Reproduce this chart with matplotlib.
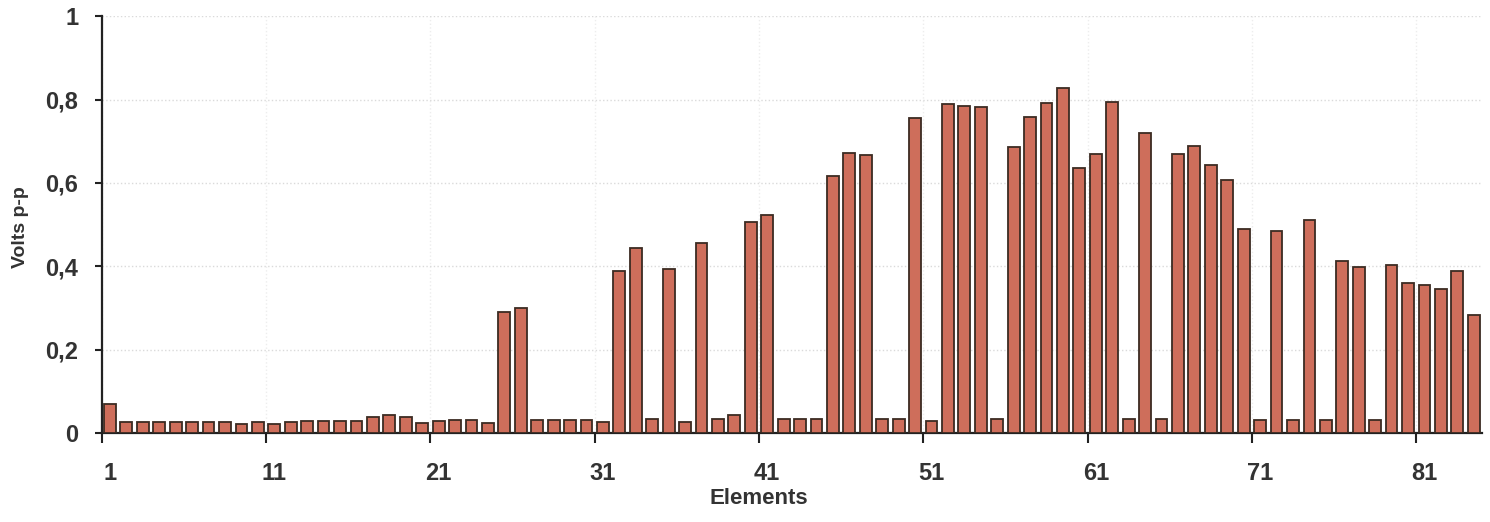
import numpy as np
import matplotlib
matplotlib.use('Agg')
import matplotlib.pyplot as plt
from matplotlib.ticker import FixedLocator, NullFormatter

# peak-to-peak voltage per element
elements = list(range(1, 85))
volts = [0.070, 0.026, 0.026, 0.026, 0.026, 0.026, 0.026, 0.027, 0.021, 0.027,
         0.021, 0.027, 0.028, 0.028, 0.029, 0.029, 0.039, 0.044, 0.039, 0.023,
         0.029, 0.030, 0.030, 0.024, 0.290, 0.300, 0.031, 0.031, 0.031, 0.031,
         0.026, 0.388, 0.443, 0.033, 0.394, 0.026, 0.457, 0.033, 0.044, 0.507,
         0.522, 0.034, 0.034, 0.034, 0.617, 0.672, 0.667, 0.034, 0.034, 0.755,
         0.028, 0.790, 0.785, 0.782, 0.034, 0.685, 0.757, 0.792, 0.828, 0.635,
         0.669, 0.793, 0.034, 0.720, 0.034, 0.670, 0.688, 0.642, 0.608, 0.490,
         0.032, 0.485, 0.032, 0.510, 0.032, 0.413, 0.398, 0.032, 0.404, 0.360,
         0.354, 0.346, 0.388, 0.283]
xlabels = ['1', '11', '21', '31', '41', '51', '61', '71', '81']
ylabels = ['0', '0,2', '0,4', '0,6', '0,8', '1']

plt.rcParams['font.family'] = ['Liberation Sans', 'DejaVu Sans']
plt.rcParams['font.weight'] = 'bold'

fig = plt.figure(figsize=(14.9, 5.22), dpi=100)
ax = fig.add_axes([0.0683, 0.1705, 0.9263, 0.7985])

ax.bar(elements, volts, width=0.72, color='#ce6e5b', edgecolor='#3b2b22', linewidth=1.3, zorder=3)

ax.set_xlim(0.5, 84.5)
ax.set_ylim(0, 1)

# ticks between categories, labels under categories
ax.xaxis.set_major_locator(FixedLocator(np.arange(0.5, 85, 10)))
ax.xaxis.set_major_formatter(NullFormatter())
ax.xaxis.set_minor_locator(FixedLocator([int(s) for s in xlabels]))
ax.set_xticklabels(xlabels, minor=True)
ax.tick_params(axis='x', which='major', length=7, width=1.5, color='#222222', direction='out')
ax.tick_params(axis='x', which='minor', length=0, pad=21, labelsize=17, labelcolor='#333333')

ax.set_yticks([0, 0.2, 0.4, 0.6, 0.8, 1.0])
ax.set_yticklabels(ylabels)
ax.tick_params(axis='y', length=5, width=1.5, color='#222222', pad=12, labelsize=17, labelcolor='#333333')

ax.grid(axis='y', color='#dadada', linestyle=':', linewidth=1.0, zorder=0)
ax.grid(axis='x', which='major', color='#ededed', linestyle=':', linewidth=1.0, zorder=0)

for s in ['top', 'right']:
    ax.spines[s].set_visible(False)
for s in ['left', 'bottom']:
    ax.spines[s].set_color('#222222')
    ax.spines[s].set_linewidth(1.6)

ax.set_xlabel('Elements', fontsize=16, fontweight='bold', color='#333333')
ax.set_ylabel('Volts p-p', fontsize=14, fontweight='bold', color='#333333')
ax.xaxis.set_label_coords(0.476, -0.133)
ax.yaxis.set_label_coords(-0.053, 0.494)

fig.savefig('out.png', dpi=100)
